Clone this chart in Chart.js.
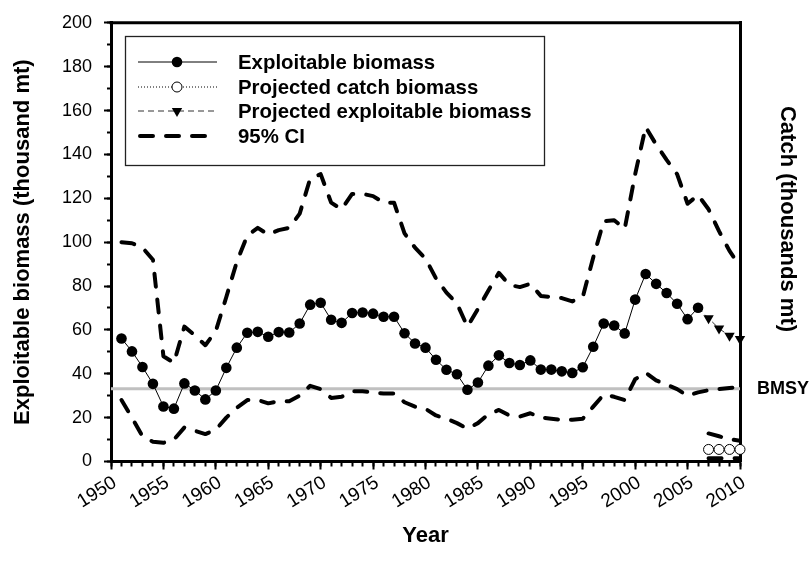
<!DOCTYPE html>
<html>
<head>
<meta charset="utf-8">
<script src="https://cdn.jsdelivr.net/npm/chart.js@4.4.1/dist/chart.umd.min.js"></script>
<style>
html, body { margin: 0; padding: 0; background: #fff; }
</style>
</head>
<body>
<canvas id="myChart" width="810" height="573"></canvas>
<script>
// years for the 95% CI band (model years)
const ciYears = [1951,1952,1953,1954,1955,1956,1957,1958,1959,1960,
  1961,1962,1963,1964,1965,1966,1967,1968,1969,1970,
  1971,1972,1973,1974,1975,1976,1977,1978,1979,1980,
  1981,1982,1983,1984,1985,1986,1987,1988,1989,1990,
  1991,1992,1993,1994,1995,1996,1997,1998,1999,2000,
  2001,2002,2003,2004,2005,2006,2007,2008,2009,2010];

// exploitable biomass 1951-2006
const biomass = [56.1,50.2,43.1,35.4,25.1,24.1,35.6,32.4,28.3,32.4,
  42.7,51.9,58.7,59.1,56.9,59.0,58.8,62.9,71.5,72.4,
  64.6,63.2,67.7,67.9,67.4,66.0,66.0,58.5,53.8,51.9,
  46.4,41.8,39.8,32.7,36.0,43.7,48.4,44.9,44.0,46.1,
  41.9,41.9,41.1,40.4,43.0,52.3,62.9,62.0,58.4,73.8,
  85.5,81.0,76.8,71.9,64.9,70.1];

const ciUpper = [100,99.5,97.5,92,48,45,61.5,57.5,53,59.5,
  75,91,103,106.5,103.5,105.5,106.5,113,129,131,
  118,115,122,122,121,118,118,104,97.5,92.5,
  83.5,77,72,61.5,69.5,78,86,80.5,79.5,81,
  75.5,75,74.5,73,75,93,109.5,110,106,131,
  152.5,144.5,137.5,131,117.5,121.5,115,105,96,89];

const ciLower = [28,20,11.5,9,8.5,10,15.5,14,12.5,14.5,
  20,24.5,28,28,26.5,27.5,27.5,30,34.5,33,
  29,29.5,32,32,31.5,31,31,27,25,24,
  21,19.5,17.5,15,17.5,21.5,23.5,21,20.5,22,
  20,19.5,19,19,19.5,25,30.5,29.5,28,37.5,
  40.5,37,35,33,30,31.5,32.5,33,33.5,34];

// projections
const projYears = [2006, 2007, 2008, 2009, 2010];
const projBiomass = [70.1, 65.3, 60.6, 57.3, 55.8];

const catchYears = [2007, 2008, 2009, 2010];
const projCatch = [5.5, 5.5, 5.5, 5.5];
const catchUpper = [12.8, 11.5, 10.2, 9.4];
const catchLower = [1.5, 1.5, 1.5, 1.5];

const bmsy = 33.2;
const yearRange = [1950, 2010];

const legendLabels = ['Exploitable biomass', 'Projected catch biomass',
  'Projected exploitable biomass', '95% CI'];

const FONT = "'Liberation Sans', Arial, sans-serif";

function pts(xs, ys) {
  return ys.map(function (v, i) { return {x: xs[i], y: v}; });
}

const ciDash = [13, 13];

// legend box, right axis title, BMSY label and top border
const extras = {
  id: 'extras',
  afterDraw(chart) {
    const ctx = chart.ctx;
    const area = chart.chartArea;
    ctx.save();

    // top border of the plot box
    ctx.strokeStyle = '#000';
    ctx.lineWidth = 3;
    ctx.beginPath();
    ctx.moveTo(area.left - 1.5, area.top);
    ctx.lineTo(area.right + 1.5, area.top);
    ctx.stroke();

    // legend
    const bx = 125, by = 36, bw = 419, bh = 129;
    ctx.fillStyle = '#fff';
    ctx.fillRect(bx, by, bw, bh);
    ctx.lineWidth = 1.3;
    ctx.strokeStyle = '#222';
    ctx.strokeRect(bx + 0.5, by + 0.5, bw, bh);

    const rows = [62, 87, 111, 136];
    const x1 = 138, x2 = 217, mx = 177;

    // row 1
    ctx.setLineDash([]);
    ctx.lineWidth = 1;
    ctx.strokeStyle = '#000';
    ctx.beginPath(); ctx.moveTo(x1, rows[0]); ctx.lineTo(x2, rows[0]); ctx.stroke();
    ctx.fillStyle = '#000';
    ctx.beginPath(); ctx.arc(mx, rows[0], 5.3, 0, Math.PI * 2); ctx.fill();

    // row 2
    ctx.setLineDash([1, 2]);
    ctx.beginPath(); ctx.moveTo(x1, rows[1]); ctx.lineTo(x2, rows[1]); ctx.stroke();
    ctx.setLineDash([]);
    ctx.fillStyle = '#fff';
    ctx.beginPath(); ctx.arc(mx, rows[1], 5, 0, Math.PI * 2); ctx.fill(); ctx.stroke();

    // row 3
    ctx.setLineDash([6, 4]);
    ctx.strokeStyle = '#333';
    ctx.beginPath(); ctx.moveTo(x1, rows[2]); ctx.lineTo(x2, rows[2]); ctx.stroke();
    ctx.setLineDash([]);
    ctx.fillStyle = '#000';
    ctx.beginPath();
    ctx.moveTo(mx - 5.2, rows[2] - 3);
    ctx.lineTo(mx + 5.2, rows[2] - 3);
    ctx.lineTo(mx, rows[2] + 6);
    ctx.closePath(); ctx.fill();

    // row 4
    ctx.setLineDash(ciDash);
    ctx.lineWidth = 4;
    ctx.lineCap = 'round';
    ctx.strokeStyle = '#000';
    ctx.beginPath(); ctx.moveTo(x1 + 2, rows[3]); ctx.lineTo(x2 - 6, rows[3]); ctx.stroke();
    ctx.setLineDash([]);
    ctx.lineCap = 'butt';

    ctx.fillStyle = '#000';
    ctx.font = 'bold 20.4px ' + FONT;
    ctx.textAlign = 'left';
    ctx.textBaseline = 'middle';
    legendLabels.forEach(function (t, i) { ctx.fillText(t, 238, rows[i] + 1); });

    // BMSY label
    const yBm = chart.scales.y.getPixelForValue(bmsy);
    ctx.font = 'bold 18px ' + FONT;
    ctx.fillText('BMSY', 757, yBm);

    // right axis title
    ctx.translate(787, 219);
    ctx.rotate(Math.PI / 2);
    ctx.font = 'bold 22px ' + FONT;
    ctx.textAlign = 'center';
    ctx.fillText('Catch (thousands mt)', 0, 0);

    ctx.restore();
  }
};

const ctx1 = document.getElementById('myChart');

new Chart(ctx1, {
  type: 'line',
  data: {
    datasets: [
      {
        label: legendLabels[0],
        data: pts(ciYears, biomass),
        borderColor: '#000',
        borderWidth: 1,
        pointRadius: 5.3,
        pointBackgroundColor: '#000',
        pointBorderColor: '#000',
        pointBorderWidth: 0
      },
      {
        label: legendLabels[2],
        data: pts(projYears, projBiomass),
        borderColor: '#333',
        borderWidth: 1,
        borderDash: [6, 4],
        pointStyle: 'triangle',
        rotation: 180,
        pointRadius: function (c) { return c.dataIndex === 0 ? 0 : 6; },
        pointBackgroundColor: '#000',
        pointBorderColor: '#000',
        pointBorderWidth: 0,
        clip: false
      },
      {
        label: legendLabels[1],
        data: pts(catchYears, projCatch),
        yAxisID: 'y1',
        borderColor: '#000',
        borderWidth: 1,
        borderDash: [1, 2],
        pointRadius: 5,
        pointBackgroundColor: '#fff',
        pointBorderColor: '#000',
        pointBorderWidth: 1,
        clip: false
      },
      {
        label: '95% CI catch upper',
        data: pts(catchYears, catchUpper),
        yAxisID: 'y1',
        borderColor: '#000',
        borderWidth: 4,
        borderDash: ciDash,
        borderCapStyle: 'round',
        pointRadius: 0
      },
      {
        label: '95% CI catch lower',
        data: pts(catchYears, catchLower),
        yAxisID: 'y1',
        borderColor: '#000',
        borderWidth: 4,
        borderDash: ciDash,
        borderCapStyle: 'round',
        pointRadius: 0
      },
      {
        label: legendLabels[3],
        data: pts(ciYears, ciUpper),
        borderColor: '#000',
        borderWidth: 4,
        borderDash: ciDash,
        borderCapStyle: 'round',
        borderJoinStyle: 'round',
        pointRadius: 0
      },
      {
        label: '95% CI lower',
        data: pts(ciYears, ciLower),
        borderColor: '#000',
        borderWidth: 4,
        borderDash: ciDash,
        borderCapStyle: 'round',
        borderJoinStyle: 'round',
        pointRadius: 0
      },
      {
        label: 'BMSY',
        data: pts(yearRange, [bmsy, bmsy]),
        borderColor: '#c0c0c0',
        borderWidth: 3,
        pointRadius: 0
      }
    ]
  },
  options: {
    responsive: false,
    animation: false,
    layout: { padding: { top: 20, left: 0, right: 0, bottom: 0 } },
    plugins: { legend: { display: false }, tooltip: { enabled: false } },
    elements: { line: { tension: 0 } },
    scales: {
      x: {
        type: 'linear',
        position: 'bottom',
        weight: 1,
        min: yearRange[0],
        max: yearRange[1],
        afterFit: function (s) { s.height = 111.5; },
        ticks: {
          stepSize: 5,
          autoSkip: false,
          minRotation: 32,
          maxRotation: 32,
          padding: 2,
          labelOffset: 4,
          color: '#000',
          font: { family: FONT, size: 19 },
          callback: function (v) { return String(v); }
        },
        grid: { drawOnChartArea: false, tickLength: 8, tickWidth: 2, tickColor: '#000' },
        border: { display: true, width: 3, color: '#000' },
        title: {
          display: true,
          text: 'Year',
          color: '#000',
          font: { family: FONT, size: 22, weight: 'bold' },
          padding: { top: 0, bottom: 24 }
        }
      },
      xMinor: {
        type: 'linear',
        position: 'bottom',
        weight: 0,
        min: yearRange[0],
        max: yearRange[1],
        afterFit: function (s) { s.height = 0; },
        ticks: { display: false, stepSize: 1, maxTicksLimit: 100 },
        grid: { drawOnChartArea: false, tickLength: 5, tickWidth: 2, tickColor: '#000' },
        border: { display: false }
      },
      y: {
        type: 'linear',
        position: 'left',
        weight: 1,
        min: 0,
        max: 200,
        afterFit: function (s) { s.width = 111; },
        ticks: {
          stepSize: 20,
          padding: 12,
          color: '#000',
          font: { family: FONT, size: 18 }
        },
        grid: { drawOnChartArea: false, tickLength: 7, tickWidth: 2, tickColor: '#000' },
        border: { display: true, width: 3, color: '#000' },
        title: {
          display: true,
          text: 'Exploitable biomass (thousand mt)',
          color: '#000',
          font: { family: FONT, size: 22, weight: 'bold' },
          padding: { top: 10, bottom: 0 }
        }
      },
      yMinor: {
        type: 'linear',
        position: 'left',
        weight: 0,
        min: 0,
        max: 200,
        afterFit: function (s) { s.width = 0; },
        ticks: { display: false, stepSize: 10, maxTicksLimit: 100 },
        grid: { drawOnChartArea: false, tickLength: 4, tickWidth: 2, tickColor: '#000' },
        border: { display: false }
      },
      y1: {
        type: 'linear',
        position: 'right',
        min: 0,
        max: 200,
        afterFit: function (s) { s.width = 70; },
        ticks: { display: false },
        grid: { display: false, drawTicks: false },
        border: { display: true, width: 3, color: '#000' }
      }
    }
  },
  plugins: [extras]
});
</script>
</body>
</html>
